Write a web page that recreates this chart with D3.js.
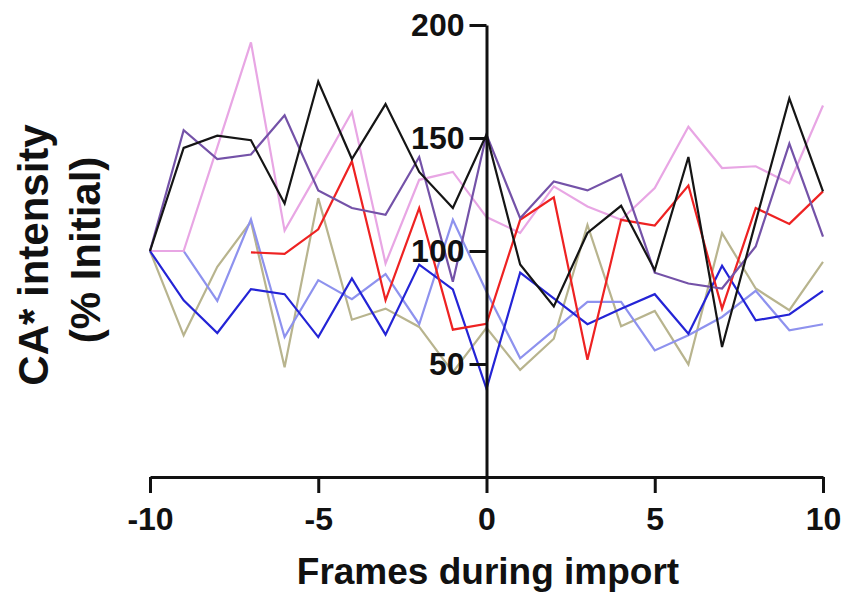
<!DOCTYPE html>
<html>
<head>
<meta charset="utf-8">
<script src="https://cdn.jsdelivr.net/npm/d3@7"></script>
<style>
  html, body { margin: 0; padding: 0; background: #fff; }
  svg { display: block; font-family: "Liberation Sans", Arial, sans-serif; }
</style>
</head>
<body>
<svg id="chart" width="847" height="595"></svg>
<script>
const frames = [-10,-9,-8,-7,-6,-5,-4,-3,-2,-1,0,1,2,3,4,5,6,7,8,9,10];
const xTicks = [-10,-5,0,5,10];
const yTicks = [50,100,150,200];

const khaki     = [100,62.7,93,113,48.6,123.4,69.6,74.5,66.4,46.4,66,47.4,61.2,111.5,66.7,73.5,49.8,107.9,83.4,73.8,95.2];
const lightBlue = [100,100,77.9,114,61.9,87.1,78.7,89.8,67.6,113.8,82,52.5,65,77.5,77.5,56,62.7,70.8,82.4,64.9,67.6];
const pink      = [100,100,146,192.3,109,135,161.5,94.5,131.5,135,115,108,128.6,119.7,113.8,127.9,155,136.7,137.5,130,164.4];
const blue      = [100,78.2,63.7,83.1,80.9,61.9,87.9,63,94,83,39,90.4,79,67.6,74.5,80.9,63.4,93.5,69.3,71.9,82.4];
const red       = [null,null,null,99.4,98.7,109.6,139.7,78.2,119,65.2,67.8,113.8,123.7,51.9,113.8,111.3,129,74.5,119,112,126.4];
const purple    = [100,153.5,140.7,142.7,160,126.8,119,116,141.6,86.4,151.5,114.5,130.8,126.8,133.8,90.4,85.6,83.4,102,147.5,106.4];
const black     = [100,145.6,151,149,121,175,140.7,165,135,119,151.5,94,75.5,108,120,91.5,141.6,57.5,113,167.5,126.4];

const seriesList = [
  { values: khaki,     color: "#b8b48e" },
  { values: lightBlue, color: "#8e92ee" },
  { values: pink,      color: "#e8a6e4" },
  { values: blue,      color: "#2424d6" },
  { values: red,       color: "#ee2222" },
  { values: purple,    color: "#7452a8" },
  { values: black,     color: "#151515" }
];

const svg = d3.select("#chart");
const x = d3.scaleLinear().domain([-10, 10]).range([150, 823]);
const y = d3.scaleLinear().domain([0, 200]).range([477, 25]);

const line = d3.line()
  .defined(d => d.v !== null)
  .x(d => x(d.f))
  .y(d => y(d.v));

svg.append("g").selectAll("path")
  .data(seriesList)
  .join("path")
  .attr("d", s => line(frames.map((f, i) => ({ f, v: s.values[i] }))))
  .attr("fill", "none")
  .attr("stroke", s => s.color)
  .attr("stroke-width", 2.2)
  .attr("stroke-linejoin", "miter");

// x axis
const xAxis = svg.append("g")
  .attr("transform", `translate(0,${y(0)})`)
  .call(d3.axisBottom(x).tickValues(xTicks).tickSize(16).tickSizeOuter(0).tickPadding(14).tickFormat(d3.format("d")));
xAxis.select(".domain").attr("stroke", "#111").attr("stroke-width", 3);
xAxis.selectAll(".tick line").attr("stroke", "#111").attr("stroke-width", 3);
xAxis.selectAll(".tick text")
  .attr("fill", "#111")
  .style("font-size", "32px")
  .style("font-weight", "bold")
  .style("font-family", "'Liberation Sans', Arial, sans-serif")
  .text(d => d < 0 ? "-" + Math.abs(d) : d);

// y axis
const yAxis = svg.append("g")
  .attr("transform", `translate(${x(0)},0)`)
  .call(d3.axisLeft(y).tickValues(yTicks).tickSize(17).tickSizeOuter(0).tickPadding(5));
yAxis.select(".domain").attr("stroke", "#111").attr("stroke-width", 3);
yAxis.selectAll(".tick line").attr("stroke", "#111").attr("stroke-width", 3);
yAxis.selectAll(".tick text")
  .attr("fill", "#111")
  .style("font-size", "32px")
  .style("font-weight", "bold")
  .style("font-family", "'Liberation Sans', Arial, sans-serif");

// axis titles
svg.append("text")
  .attr("x", 488)
  .attr("y", 584)
  .attr("text-anchor", "middle")
  .attr("fill", "#111")
  .style("font-size", "37px")
  .style("font-weight", "bold")
  .text("Frames during import");

const yTitle = svg.append("g").attr("transform", "rotate(-90)");
yTitle.append("text")
  .attr("x", -255).attr("y", 48)
  .attr("text-anchor", "middle")
  .attr("fill", "#111")
  .style("font-size", "42px")
  .style("font-weight", "bold")
  .text("CA* intensity");
yTitle.append("text")
  .attr("x", -250).attr("y", 100)
  .attr("text-anchor", "middle")
  .attr("fill", "#111")
  .style("font-size", "42px")
  .style("font-weight", "bold")
  .text("(% Initial)");
</script>
</body>
</html>
